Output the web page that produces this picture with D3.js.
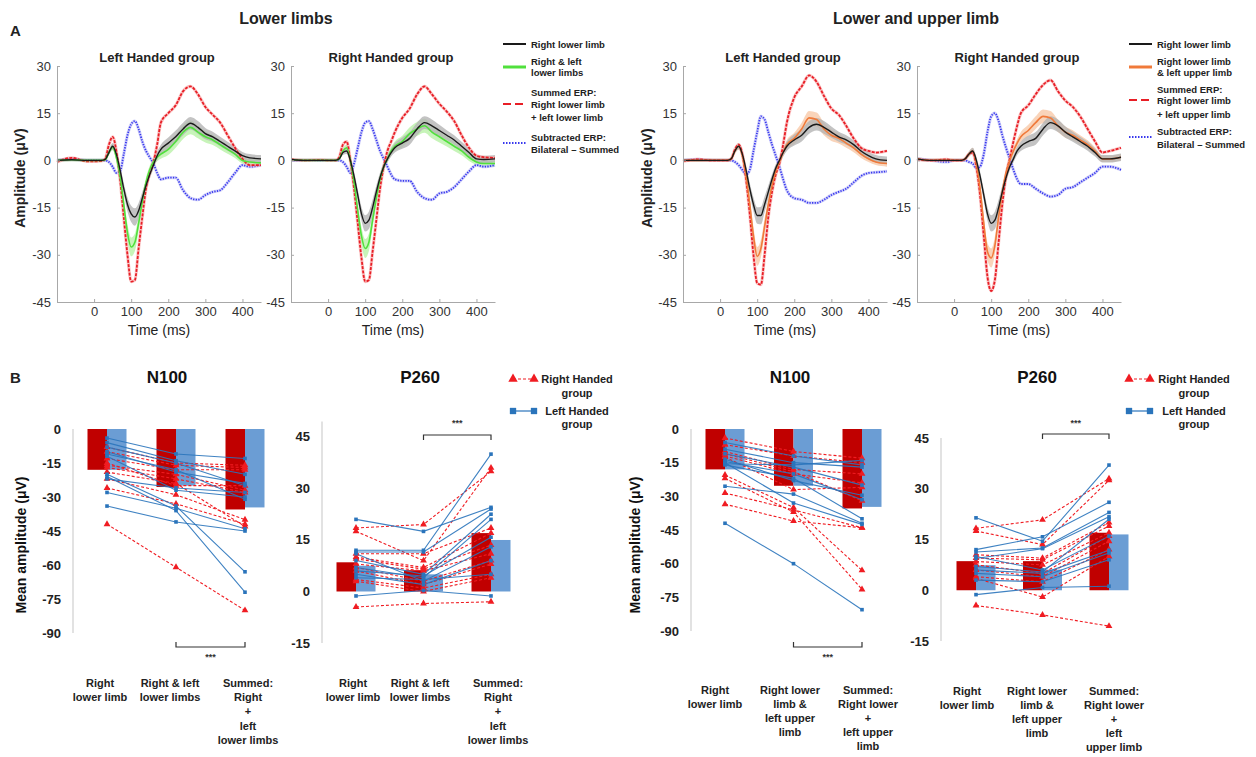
<!DOCTYPE html>
<html>
<head>
<meta charset="utf-8">
<title>ERP figure</title>
<script src="https://cdn.jsdelivr.net/npm/d3@7"></script>
<style>
  body { margin: 0; background: #fff; }
  svg { font-family: "Liberation Sans", Arial, sans-serif; }
  .ax path, .ax line { stroke: #a8a8a8; }
  .ax text { fill: #333; font-size: 13px; font-family: "Liberation Sans", Arial, sans-serif; }
</style>
</head>
<body>
<svg id="fig" width="1256" height="757"></svg>
<script>
// ---- A: ERP waveforms (µV) ----
var times = [-100,-60,-20,0,20,30,40,50,60,70,80,90,100,110,120,130,140,150,160,170,180,200,220,240,260,280,300,320,340,360,380,400,420,450];

// lower limbs, left handed group
var lowerLH_right = [0,0.2,0,0,0,0.3,2.5,4.5,2,-3,-9,-14,-17,-18,-16,-12,-8,-4.5,-1.5,1.5,3.5,5.5,7.5,10,11.8,10.5,8.5,7.5,6,4.5,3,1.5,0.8,0.5];
var lowerLH_both = [0,0.2,0,0,0,0.2,2.5,4.2,1,-5,-14,-23,-27.5,-26,-20,-13,-7,-3,-0.5,1,2,3.5,6,9,10.5,9,7.5,6.5,5,3.5,2,0,-0.5,-0.8];
var lowerLH_summed = [-0.5,0.8,-0.3,-0.3,-0.2,0.5,5,7.5,3,-6,-18,-30,-38.5,-38,-28,-18,-9,-4,-0.5,5,12,15,17.5,22,23.5,21,17,14.5,12,8,4,0.5,-1.5,-1.5];
var lowerLH_subtracted = [0,0.5,0,0,0,0,-0.5,-2,-4,-3.5,2,8,11.5,12.5,10,6,3,1,-1,-4,-6,-5.5,-5.5,-9.5,-12,-12.5,-11,-10,-9.5,-7,-4,-1.5,-2,-1.5];

// lower limbs, right handed group
var lowerRH_right = [0.3,0,0,0,0,0.5,2.5,3,0,-5,-11,-17,-20,-19,-15,-10,-5.5,-2,0.5,2.5,4,5.5,7,10,12,11,9.5,8,6.5,4.5,2.5,0.5,0.3,0.5];
var lowerRH_both = [0.3,0,0,0,0,0.5,3,4,0,-7,-16,-24,-28,-26,-19,-12,-6,-2,0.5,3,4.5,6,8.5,10,11,9,7.5,6,4.5,3,1,-0.5,-1,-1];
var lowerRH_summed = [0.3,0,0.2,0,0,1,5,6,0,-9,-20,-31,-38.5,-38,-29,-19,-9,-2,3,6,9,13.5,16.5,21,23.5,21,18,15.5,12.5,8,4,1.5,1,0.8];
var lowerRH_subtracted = [0,0,0,0,0,0,-0.5,-2,-4,-1,4,9,12,12.5,10,6.5,3,0.5,-2,-4.5,-6,-6.5,-6.5,-10,-12,-12.5,-10.5,-10,-8.5,-6,-3.5,-1.5,-2,-1.5];

// lower and upper limb, left handed group
var upperLH_right = [0,0,0,0,0,0.5,3,4.5,2,-3,-9,-14,-17.5,-17.5,-14,-10,-6,-2.5,0,2.5,4.5,6.5,8,10.5,11.5,10.5,9,7.5,6.5,5,3,1.5,0.5,0];
var upperLH_both = [0,0,0,0,0,0.5,3,4.5,1.5,-5,-14,-24,-30.5,-28,-21,-14,-8,-3.5,-0.5,2.5,5,7,10,13.5,13,10,8,7,5.5,4,2,0.5,-0.5,-1];
var upperLH_summed = [-0.3,0.3,0,0,0,0.5,3.5,5,2,-6,-17,-30,-39,-39.5,-30,-18,-10,-4.5,-1,5,12,20,23.5,27,25,20.5,16.5,14.5,11,7,4,3,2.5,3];
var upperLH_subtracted = [0,0.3,0,0,0,0,-0.5,-1.5,-3,-4.5,-3,3,9,14,13,9,5,1.5,-2,-6,-9.5,-12,-12.5,-13.5,-13.5,-12.5,-11,-10,-9,-7,-5,-4,-3.8,-3.5];

// lower and upper limb, right handed group
var upperRH_right = [0.5,0,0,0,0,0.5,2,3,0,-5,-11,-17,-20,-19,-15,-10,-5.5,-2,0.5,3,4.5,6,7,10,12,11,9,7.5,6,4.5,2.5,0.5,0.5,1];
var upperRH_both = [0.5,0,0,0,0,0.5,2,3,-1,-9,-20,-29,-31,-27,-18,-10,-4,0,3,5.5,7.5,9.5,12,14,13.5,11,9,8,6.5,5,3,0.5,0.5,1];
var upperRH_summed = [0.3,0,0.3,0,0,0.5,2,2.5,-2,-11,-24,-37,-41.5,-38,-26,-14,-5,0.5,6,11,15,17.5,21,24,25.5,22,19,17,14,10,6,2.5,3,4];
var upperRH_subtracted = [0.5,0,-0.5,0,0,0,-0.5,-1,-2.5,-2,2,9,14,15,12.5,8,4,0.5,-3,-6,-7.5,-7.5,-9,-10.5,-11.5,-11,-9,-8.5,-7,-5.5,-4,-2,-2,-3];

// standard error bands (shaded)
var semRight = [0.5,0.5,0.5,0.5,0.5,0.6,0.8,1,1.2,1.5,1.8,2.2,2.6,2.8,2.5,2,1.6,1.3,1.2,1.3,1.5,1.8,2,2,2,2,1.8,1.6,1.5,1.4,1.3,1.2,1.2,1.2];
var semBoth = [0.5,0.5,0.5,0.5,0.5,0.6,0.8,1,1.3,1.8,2.3,2.8,3,2.8,2.5,2,1.6,1.3,1.2,1.3,1.5,1.8,2,2.2,2.2,2,1.8,1.6,1.5,1.4,1.2,1,1,1];

var erpXTicks = [0, 100, 200, 300, 400];
var erpYTicks = [30, 15, 0, -15, -30, -45];

// ---- B: mean amplitudes (µV), bars = group means, rows = subjects [cond1, cond2, cond3] ----
var n100LowerBarsRH = [-18, -25.6, -35.5];
var n100LowerBarsLH = [-18, -25, -34.6];
var n100LowerRH = [[-42,-61,-80],[-26,-33,-42],[-22,-29,-40],[-19,-24,-43],[-17,-22,-28],[-16,-20,-27],[-15,-25,-25],[-13,-18,-18],[-10,-16,-17],[-8,-15,-16]];
var n100LowerLH = [[-4,-11,-13],[-6,-14,-20],[-8,-15,-25],[-10,-19,-24],[-11,-18,-31],[-12,-27,-30],[-20,-34,-63],[-21,-36,-72],[-28,-35,-44],[-34,-41,-45],[-22,-26,-28]];

var p260LowerBarsRH = [8.5, 6.2, 17];
var p260LowerBarsLH = [7.5, 5, 15];
var p260LowerRH = [[18.5,19.5,35],[17.5,9,36],[11,11,18.5],[10,7,17],[9.5,6.5,13.5],[8,6,11],[7,3,9],[6,2,8],[3.5,1,5],[3,0,4],[-4.5,-3.5,-3]];
var p260LowerLH = [[21,17.5,24.5],[12,12,40],[11.5,11.5,24],[9,5,22.5],[7,4,21],[11,3,13],[5,2,9],[4,3.5,5],[-1.3,0.3,-1.3],[6,4.5,15.8]];

var n100UpperBarsRH = [-18, -25.3, -35.4];
var n100UpperBarsLH = [-18, -25.3, -34.7];
var n100UpperRH = [[-4,-10,-13],[-7,-12,-15],[-10,-18,-20],[-12,-20,-24],[-12.5,-27,-26],[-20.5,-35,-63],[-22,-37,-71.5],[-28.5,-36,-44],[-33.5,-41,-44],[-11,-19,-32]];
var n100UpperLH = [[-42,-60,-80.5],[-25.5,-29,-42],[-15,-33,-42.5],[-16,-22,-40],[-14.5,-20,-31.5],[-13.5,-23,-29.5],[-11,-17,-25],[-9,-15,-17],[-6,-12,-16],[-15.5,-16,-14]];

var p260UpperBarsRH = [8.6, 8.6, 17];
var p260UpperBarsLH = [7.4, 6.1, 16.5];
var p260UpperRH = [[18.3,20.8,33],[17.5,13.5,32.5],[10.5,9.5,20],[9.5,9,19],[8.5,7.5,17],[7.5,5,16],[6,4,14.5],[4,2.5,12],[3.5,-2,10],[-4.5,-7.3,-10.6]];
var p260UpperLH = [[21.4,14.5,37],[12,15.8,26],[11.3,12.5,23],[9.4,12.3,21.7],[7,5.4,21],[6,5,11.8],[5,4,11],[3,2.5,9],[-1.3,0.8,1.2],[10,6,16]];

var n100Ticks = [0, -15, -30, -45, -60, -75, -90];
var p260Ticks = [45, 30, 15, 0, -15];

var lowerCats = [["Right","lower limb"],["Right & left","lower limbs"],["Summed:","Right","+","left","lower limbs"]];
var upperCatsN100 = [["Right","lower limb"],["Right lower","limb &","left upper","limb"],["Summed:","Right lower","+","left upper","limb"]];
var upperCatsP260 = [["Right","lower limb"],["Right lower","limb &","left upper","limb"],["Summed:","Right lower","+","left","upper limb"]];

// ---- colours ----
var RED_BAR = "#c00000", BLUE_BAR = "#6b9dd4";
var RED_PT = "#f01c22", BLUE_PT = "#2a74bb";
var condColors = {
  green: { line: "#50e03c", band: "#bdf2ad" },
  orange: { line: "#f07a3a", band: "#f8cdae" }
};

var svg = d3.select("#fig");

function addText(sel, x, y, s, size, bold, anchor, fill) {
  return sel.append("text")
    .attr("x", x).attr("y", y)
    .attr("dominant-baseline", "central")
    .attr("text-anchor", anchor || "middle")
    .style("font-size", size + "px")
    .style("font-weight", bold ? "bold" : "normal")
    .attr("fill", fill || "#222")
    .text(s);
}

// panel letters and section titles
addText(svg, 10, 30, "A", 15, true, "start");
addText(svg, 10, 377, "B", 15, true, "start");
addText(svg, 286, 18, "Lower limbs", 16, true);
addText(svg, 916, 18, "Lower and upper limb", 16, true);

// ---- A panels ----
var erpPanels = [
  { left: 57, right: 261, title: "Left Handed group", cond: "green", ylab: 20,
    series: [lowerLH_right, lowerLH_both, lowerLH_summed, lowerLH_subtracted] },
  { left: 291, right: 495, title: "Right Handed group", cond: "green",
    series: [lowerRH_right, lowerRH_both, lowerRH_summed, lowerRH_subtracted] },
  { left: 683, right: 887, title: "Left Handed group", cond: "orange", ylab: 647,
    series: [upperLH_right, upperLH_both, upperLH_summed, upperLH_subtracted] },
  { left: 917, right: 1121, title: "Right Handed group", cond: "orange",
    series: [upperRH_right, upperRH_both, upperRH_summed, upperRH_subtracted] }
];

function drawErp(p) {
  var x = d3.scaleLinear().domain([-100, 450]).range([p.left, p.right]);
  var y = d3.scaleLinear().domain([-45, 30]).range([302, 66]);
  var g = svg.append("g");

  var line = d3.line().curve(d3.curveMonotoneX)
    .x(function(d, i) { return x(times[i]); })
    .y(function(d) { return y(d); });
  function band(vals, se) {
    return d3.area().curve(d3.curveMonotoneX)
      .x(function(d, i) { return x(times[i]); })
      .y0(function(d, i) { return y(vals[i] - se[i]); })
      .y1(function(d, i) { return y(vals[i] + se[i]); })(vals);
  }

  var col = condColors[p.cond];
  g.append("path").attr("d", band(p.series[1], semBoth)).attr("fill", col.band).attr("opacity", 0.85);
  g.append("path").attr("d", band(p.series[0], semRight)).attr("fill", "#b4b4b4").attr("opacity", 0.8);

  // subtracted (blue dotted)
  g.append("path").attr("d", line(p.series[3])).attr("fill", "none")
    .attr("stroke", "#b8b8f6").attr("stroke-width", 3.2).attr("opacity", 0.6);
  g.append("path").attr("d", line(p.series[3])).attr("fill", "none")
    .attr("stroke", "#3838ee").attr("stroke-width", 1.8).attr("stroke-dasharray", "1.3,1.3");
  // summed (red dashed)
  g.append("path").attr("d", line(p.series[2])).attr("fill", "none")
    .attr("stroke", "#f6a0a0").attr("stroke-width", 3.2).attr("opacity", 0.6);
  g.append("path").attr("d", line(p.series[2])).attr("fill", "none")
    .attr("stroke", "#e81e26").attr("stroke-width", 1.8).attr("stroke-dasharray", "3,1.3");
  // bilateral condition
  g.append("path").attr("d", line(p.series[1])).attr("fill", "none")
    .attr("stroke", col.line).attr("stroke-width", 1.6);
  // right lower limb
  g.append("path").attr("d", line(p.series[0])).attr("fill", "none")
    .attr("stroke", "#1a1a1a").attr("stroke-width", 1.4);

  g.append("g").attr("class", "ax").attr("transform", "translate(" + p.left + ",0)")
    .call(d3.axisLeft(y).tickValues(erpYTicks).tickSizeInner(-3).tickSizeOuter(0).tickPadding(6)
      .tickFormat(function(d) { return String(d); }));
  g.append("g").attr("class", "ax").attr("transform", "translate(0,302)")
    .call(d3.axisBottom(x).tickValues(erpXTicks).tickSizeInner(-3).tickSizeOuter(0).tickPadding(5)
      .tickFormat(function(d) { return String(d); }));

  addText(g, (p.left + p.right) / 2 - 2, 57, p.title, 13, true);
  addText(g, (p.left + p.right) / 2, 330, "Time (ms)", 14, false, "middle", "#222");
  if (p.ylab) {
    addText(g, 0, 0, "Amplitude (\u03BCV)", 14, true)
      .attr("transform", "translate(" + p.ylab + ",178) rotate(-90)");
  }
}
erpPanels.forEach(drawErp);

// legends for A
function erpLegend(lx, entries, condKey) {
  var g = svg.append("g");
  entries.forEach(function(e) {
    var ln = g.append("line").attr("x1", lx).attr("x2", lx + 23).attr("y1", e.ly).attr("y2", e.ly);
    if (e.kind === "right") ln.attr("stroke", "#1a1a1a").attr("stroke-width", 2);
    if (e.kind === "both") ln.attr("stroke", condColors[condKey].line).attr("stroke-width", 3);
    if (e.kind === "sum") ln.attr("stroke", "#e81e26").attr("stroke-width", 2.2).attr("stroke-dasharray", "8,4");
    if (e.kind === "sub") ln.attr("stroke", "#3838ee").attr("stroke-width", 2).attr("stroke-dasharray", "1.5,1.5");
    e.lines.forEach(function(s, j) {
      addText(g, lx + 28, e.ty[j], s, 9.5, true, "start", "#222");
    });
  });
}
erpLegend(503, [
  { kind: "right", ly: 44, lines: ["Right lower limb"], ty: [44] },
  { kind: "both", ly: 67, lines: ["Right & left", "lower limbs"], ty: [61, 72] },
  { kind: "sum", ly: 104, lines: ["Summed ERP:", "Right lower limb", "+ left lower limb"], ty: [92, 104, 117] },
  { kind: "sub", ly: 143, lines: ["Subtracted ERP:", "Bilateral \u2013 Summed"], ty: [137, 149] }
], "green");
erpLegend(1129, [
  { kind: "right", ly: 44, lines: ["Right lower limb"], ty: [44] },
  { kind: "both", ly: 67, lines: ["Right lower limb", "& left upper limb"], ty: [61, 72] },
  { kind: "sum", ly: 100, lines: ["Summed ERP:", "Right lower limb", "+ left upper limb"], ty: [89, 100, 114] },
  { kind: "sub", ly: 137, lines: ["Subtracted ERP:", "Bilateral \u2013 Summed"], ty: [131, 144] }
], "orange");

// ---- B panels ----
var barPanels = [
  { title: "N100", titleX: 167, axisX: 73, domain: [-90, 0], range: [633, 429], ticks: n100Ticks,
    cx: [107, 245], barsRH: n100LowerBarsRH, barsLH: n100LowerBarsLH, rh: n100LowerRH, lh: n100LowerLH,
    bracketY: 647, bracketDir: -1, starY: 657, cats: lowerCats, labelX: [100, 170, 248], labelY: 683, labelStep: 14.2, ylab: 21 },
  { title: "P260", titleX: 420, axisX: 322, domain: [-15, 49.5], range: [643, 421.5], ticks: p260Ticks,
    cx: [356, 491], barsRH: p260LowerBarsRH, barsLH: p260LowerBarsLH, rh: p260LowerRH, lh: p260LowerLH,
    bracketY: 435, bracketDir: 1, starY: 423, cats: lowerCats, labelX: [353, 420, 498], labelY: 683, labelStep: 14.2,
    legend: { x: 513, tx: 577 } },
  { title: "N100", titleX: 790, axisX: 691, domain: [-90, 0], range: [631, 429], ticks: n100Ticks,
    cx: [725, 862], barsRH: n100UpperBarsRH, barsLH: n100UpperBarsLH, rh: n100UpperRH, lh: n100UpperLH,
    bracketY: 647, bracketDir: -1, starY: 657, cats: upperCatsN100, labelX: [715, 790, 868], labelY: 690, labelStep: 13.9, ylab: 635 },
  { title: "P260", titleX: 1037, axisX: 941, domain: [-15, 45], range: [641, 438], ticks: p260Ticks,
    cx: [976, 1109], barsRH: p260UpperBarsRH, barsLH: p260UpperBarsLH, rh: p260UpperRH, lh: p260UpperLH,
    bracketY: 434, bracketDir: 1, starY: 423, cats: upperCatsP260, labelX: [967, 1037, 1114], labelY: 691, labelStep: 13.9,
    legend: { x: 1129, tx: 1194 } }
];

var triangle = d3.symbol().type(d3.symbolTriangle).size(20);
var square = d3.symbol().type(d3.symbolSquare).size(13);

function drawBars(p) {
  var x = d3.scalePoint().domain([0, 1, 2]).range(p.cx);
  var y = d3.scaleLinear().domain(p.domain).range(p.range);
  var bw = 19.5;
  var g = svg.append("g");

  addText(g, p.titleX, 377, p.title, 17, true, "middle", "#111");

  g.append("line").attr("x1", p.axisX).attr("x2", p.axisX)
    .attr("y1", y(p.domain[1])).attr("y2", y(p.domain[0]))
    .attr("stroke", "#cfcfcf").attr("stroke-width", 1.2);
  p.ticks.forEach(function(t) {
    addText(g, p.axisX - 12, y(t), String(t), 13, true, "end", "#222");
  });

  g.selectAll(".barRH").data(p.barsRH).enter().append("rect")
    .attr("x", function(d, i) { return x(i) - bw; })
    .attr("y", function(d) { return Math.min(y(0), y(d)); })
    .attr("width", bw)
    .attr("height", function(d) { return Math.abs(y(d) - y(0)); })
    .attr("fill", RED_BAR);
  g.selectAll(".barLH").data(p.barsLH).enter().append("rect")
    .attr("x", function(d, i) { return x(i); })
    .attr("y", function(d) { return Math.min(y(0), y(d)); })
    .attr("width", bw)
    .attr("height", function(d) { return Math.abs(y(d) - y(0)); })
    .attr("fill", BLUE_BAR);

  var line = d3.line().x(function(d, i) { return x(i); }).y(function(d) { return y(d); });

  p.rh.forEach(function(s) {
    g.append("path").attr("d", line(s)).attr("fill", "none")
      .attr("stroke", RED_PT).attr("stroke-width", 1.1).attr("stroke-dasharray", "3,2");
  });
  p.lh.forEach(function(s) {
    g.append("path").attr("d", line(s)).attr("fill", "none")
      .attr("stroke", BLUE_PT).attr("stroke-width", 1.1).attr("opacity", 0.9);
  });
  p.rh.forEach(function(s) {
    s.forEach(function(v, i) {
      g.append("path").attr("d", triangle).attr("fill", RED_PT)
        .attr("transform", "translate(" + x(i) + "," + y(v) + ")");
    });
  });
  p.lh.forEach(function(s) {
    s.forEach(function(v, i) {
      g.append("path").attr("d", square).attr("fill", BLUE_PT)
        .attr("transform", "translate(" + x(i) + "," + y(v) + ")");
    });
  });

  // significance bracket between condition 2 and 3
  var by = p.bracketY, tip = by + 5 * p.bracketDir;
  g.append("path")
    .attr("d", "M" + x(1) + "," + tip + "V" + by + "H" + x(2) + "V" + tip)
    .attr("fill", "none").attr("stroke", "#333").attr("stroke-width", 1.2);
  addText(g, (x(1) + x(2)) / 2, p.starY, "***", 9, true, "middle", "#333");

  p.cats.forEach(function(lines, i) {
    lines.forEach(function(s, j) {
      addText(g, p.labelX[i], p.labelY + j * p.labelStep, s, 11, true, "middle", "#222");
    });
  });

  if (p.ylab) {
    addText(g, 0, 0, "Mean amplitude (\u03BCV)", 14, true, "middle", "#111")
      .attr("transform", "translate(" + p.ylab + ",545) rotate(-90)");
  }

  if (p.legend) {
    var L = p.legend;
    g.append("line").attr("x1", L.x).attr("x2", L.x + 21).attr("y1", 379).attr("y2", 379)
      .attr("stroke", RED_PT).attr("stroke-width", 1.2).attr("stroke-dasharray", "3,2");
    [L.x, L.x + 21].forEach(function(mx) {
      g.append("path").attr("d", d3.symbol().type(d3.symbolTriangle).size(38)).attr("fill", RED_PT)
        .attr("transform", "translate(" + mx + ",379)");
    });
    g.append("line").attr("x1", L.x).attr("x2", L.x + 21).attr("y1", 411).attr("y2", 411)
      .attr("stroke", BLUE_PT).attr("stroke-width", 1.2);
    [L.x, L.x + 21].forEach(function(mx) {
      g.append("path").attr("d", d3.symbol().type(d3.symbolSquare).size(40)).attr("fill", BLUE_PT)
        .attr("transform", "translate(" + mx + ",411)");
    });
    addText(g, L.tx, 379, "Right Handed", 11, true, "middle", "#222");
    addText(g, L.tx, 393, "group", 11, true, "middle", "#222");
    addText(g, L.tx, 411, "Left Handed", 11, true, "middle", "#222");
    addText(g, L.tx, 424, "group", 11, true, "middle", "#222");
  }
}
barPanels.forEach(drawBars);
</script>
</body>
</html>
